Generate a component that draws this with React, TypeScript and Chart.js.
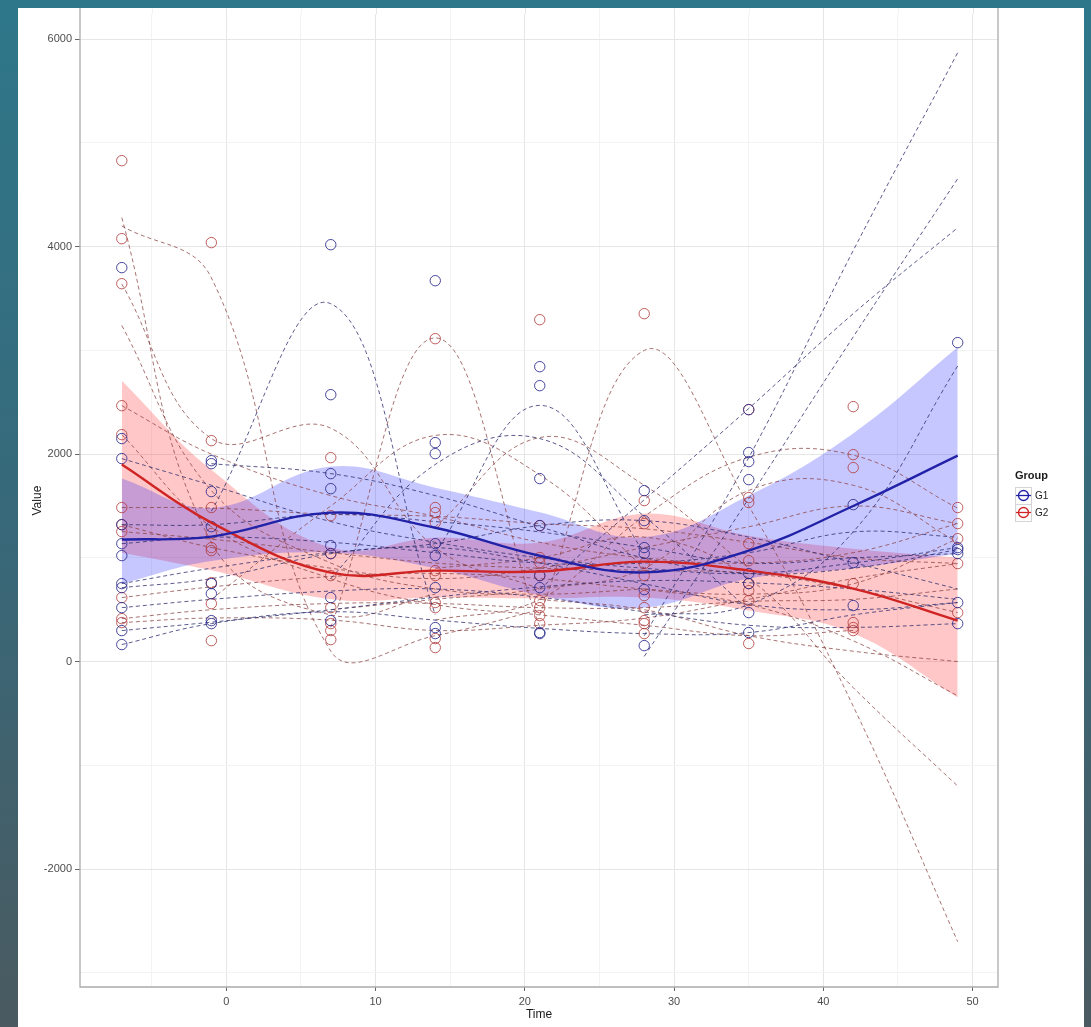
import React, { useEffect, useRef } from "react";
import { Chart, registerables } from "chart.js";

Chart.register(...registerables);

// ---------- data ----------
const times = [-7, -1, 7, 14, 21, 28, 35, 42, 49];
const groupNames = ["G1", "G2"];
const xTickValues = [-5, 0, 5, 10, 15, 20, 25, 30, 35, 40, 45, 50];
const xMajorTicks = [0, 10, 20, 30, 40, 50];
const yTickValues = [-3000, -2000, -1000, 0, 1000, 2000, 3000, 4000, 5000, 6000];
const yMajorTicks = [-2000, 0, 2000, 4000, 6000];

// observed values (open circles), one list per time point
const g1Obs: number[][] = [
  [3798, 2150, 1957, 1320, 1137, 1022, 752, 713, 520, 299, 164],
  [1937, 1908, 1639, 1301, 752, 655, 395, 366],
  [4019, 2573, 1812, 1667, 1118, 1041, 617, 395],
  [3672, 2111, 2005, 1137, 1022, 713, 328, 270],
  [2843, 2660, 1764, 1311, 829, 713, 280, 270],
  [1648, 1359, 1099, 1041, 694, 154],
  [2429, 2015, 1928, 1754, 848, 752, 472, 280],
  [1513, 954, 540],
  [3075, 1099, 1080, 1041, 569, 366],
];
const g2Obs: number[][] = [
  [4829, 4077, 3643, 2467, 2188, 1485, 1320, 1253, 617, 414, 376],
  [4039, 2130, 1485, 1234, 1099, 1070, 761, 559, 202],
  [1966, 1407, 1041, 829, 520, 366, 299, 212],
  [3113, 1485, 1436, 1340, 877, 829, 569, 520, 222, 135],
  [3296, 1311, 1003, 954, 829, 588, 520, 443, 366],
  [3354, 1552, 1330, 945, 829, 636, 520, 395, 366, 270],
  [2429, 1581, 1533, 1137, 973, 752, 684, 588, 174],
  [2458, 1995, 1870, 752, 376, 328, 299],
  [1485, 1330, 1185, 945, 472],
];

// group smooths and confidence bands
const g1Mean = [1176, 1205, 1436, 1290, 1020, 860, 1070, 1500, 1985];
const g1Upper = [1764, 1480, 1880, 1677, 1440, 1200, 1600, 2200, 3030];
const g1Lower = [752, 970, 1050, 900, 640, 520, 800, 900, 1040];
const g2Mean = [1899, 1340, 858, 877, 868, 964, 877, 704, 395];
const g2Upper = [2708, 1850, 1100, 1195, 1147, 1426, 1214, 1089, 1003];
const g2Lower = [1050, 880, 600, 617, 607, 617, 492, 270, -347];

// per-subject smoothed trajectories (null = not measured)
const N = null;
const g1Subjects: (number | null)[][] = [
  [N, N, N, N, N, 250, 1966, 3962, 5870],
  [N, N, N, N, N, 50, 1571, 3130, 4655],
  [N, N, N, N, 700, 1560, 2440, 3354, 4183],
  [N, N, N, N, N, 450, 550, 1250, 2850],
  [N, 1450, 3450, 450, N, N, N, N, N],
  [N, N, N, 1050, 2470, 1050, N, N, N],
  [1957, 1700, 1350, 1150, 1000, 900, 850, 950, 1100],
  [1320, 1320, 1420, 1350, 1250, 1100, 950, 1000, 1041],
  [1137, 1200, 1150, 1050, 950, 950, 1050, 1250, 1200],
  [752, 900, 1050, 1100, 950, 750, 550, 500, 569],
  [520, 600, 680, 700, 620, 480, 350, 330, 366],
  [299, 380, 500, 620, 720, 780, 760, 700, 600],
  [164, 366, 480, 400, 320, 270, 280, 450, 570],
  [N, 1908, 1812, 1600, 1300, 1000, 850, 900, 1080],
  [713, 800, 1041, 1137, 1311, 1359, 1200, 954, 700],
  [N, N, 800, 1900, 2150, 1400, 500, N, N],
];
const g2Subjects: (number | null)[][] = [
  [4200, 3700, 100, 250, 500, N, N, N, N],
  [4280, 1150, 450, 650, N, N, N, N, N],
  [3640, 2150, 2250, 1100, 700, N, N, N, N],
  [3240, 1650, 950, 700, 650, 700, N, N, N],
  [N, N, 330, 3120, 330, N, N, N, N],
  [N, N, N, N, 450, 3000, 1500, -430, -2700],
  [N, N, N, 900, 1000, 1200, 800, -250, -1200],
  [N, N, N, N, 600, 500, 250, 100, 0],
  [N, N, N, N, N, 700, 550, 200, -330],
  [N, N, N, 400, 600, 1400, 1970, 1990, 1480],
  [N, N, 500, 600, 700, 900, 1650, 1700, 1150],
  [2467, 2000, 1600, 1400, 1150, 1000, 950, 1050, 1330],
  [1485, 1480, 1420, 1400, 1330, 1280, 1150, 1000, 945],
  [1253, 1180, 1050, 950, 900, 880, 850, 700, 472],
  [617, 720, 820, 850, 800, 700, 650, 750, 1185],
  [414, 500, 560, 560, 520, 520, 580, 600, 700],
  [376, 420, 400, 300, 350, 420, 600, 800, 945],
  [2188, 1300, 800, 550, 450, 350, 250, 300, N],
  [N, 600, 1500, 2180, 1800, 900, N, N, N],
  [N, N, N, 1300, 2160, 1700, 900, N, N],
  [1320, 1100, 900, 800, 900, 1100, 1300, 1500, 1330],
];

// ---------- styles ----------
const X_MIN = -9.8;
const X_MAX = 51.7;
const Y_MIN = -3137;
const Y_MAX = 6241;
const G1_POINT = "rgba(40,40,140,0.85)";
const G2_POINT = "rgba(175,55,55,0.8)";
const G1_DASH = "rgba(45,45,110,0.78)";
const G2_DASH = "rgba(135,60,60,0.72)";
const G1_LINE = "#2222a8";
const G2_LINE = "#d02424";
const FONT = "'Liberation Sans', Arial, sans-serif";

type P = { x: number; y: number };
const toPts = (vals: (number | null)[]): P[] =>
  vals
    .map((v, i) => (v === null ? null : { x: times[i], y: v }))
    .filter((p): p is P => p !== null);
const obsPts = (obs: number[][]): P[] =>
  obs.flatMap((list, i) => list.map((v) => ({ x: times[i], y: v })));

const framePlugin = {
  id: "frameAndKey",
  beforeDatasetsDraw(chart: any) {
    // extend vertical grid lines up to the top edge of the white panel
    const { ctx, chartArea: a, scales } = chart;
    ctx.save();
    ctx.lineWidth = 1;
    xTickValues.forEach((v) => {
      const px = Math.round(scales.x.getPixelForValue(v)) + 0.5;
      ctx.strokeStyle = xMajorTicks.includes(v) ? "#e6e6e6" : "#f3f3f3";
      ctx.beginPath();
      ctx.moveTo(px, 0);
      ctx.lineTo(px, a.top);
      ctx.stroke();
    });
    ctx.restore();
  },
  afterDraw(chart: any) {
    const { ctx, chartArea: a } = chart;
    ctx.save();
    ctx.strokeStyle = "#ababab";
    ctx.lineWidth = 1.3;
    ctx.beginPath();
    ctx.moveTo(a.left, 0);
    ctx.lineTo(a.left, a.bottom);
    ctx.lineTo(a.right, a.bottom);
    ctx.lineTo(a.right, 0);
    ctx.stroke();

    // legend
    const lx = a.right + 17;
    ctx.fillStyle = "#1a1a1a";
    ctx.font = `bold 11px ${FONT}`;
    ctx.textBaseline = "middle";
    ctx.textAlign = "left";
    ctx.fillText("Group", lx, 468);
    const cols = [G1_LINE, G2_LINE];
    groupNames.forEach((name, i) => {
      const top = 479 + i * 17;
      ctx.fillStyle = "#ffffff";
      ctx.fillRect(lx, top, 16, 17);
      ctx.strokeStyle = "#d4d4d4";
      ctx.lineWidth = 1;
      ctx.strokeRect(lx + 0.5, top + 0.5, 16, 17);
      ctx.strokeStyle = cols[i];
      ctx.lineWidth = 1.3;
      ctx.beginPath();
      ctx.moveTo(lx + 1, top + 8.5);
      ctx.lineTo(lx + 16, top + 8.5);
      ctx.stroke();
      ctx.beginPath();
      ctx.arc(lx + 8.5, top + 8.5, 5, 0, Math.PI * 2);
      ctx.stroke();
      ctx.fillStyle = "#222";
      ctx.font = `10px ${FONT}`;
      ctx.fillText(name, lx + 20, top + 9);
    });
    ctx.restore();
  },
};

export default function App() {
  const ref = useRef<HTMLCanvasElement | null>(null);

  useEffect(() => {
    if (!ref.current) return;
    const ribbon = (vals: number[], color: string, fill: any) => ({
      data: toPts(vals),
      borderWidth: 0,
      pointRadius: 0,
      backgroundColor: color,
      fill,
      tension: 0.4,
      order: 10,
    });
    const datasets: any[] = [
      ribbon(g1Upper, "rgba(0,0,255,0.22)", "+1"),
      ribbon(g1Lower, "rgba(0,0,0,0)", false),
      ribbon(g2Upper, "rgba(255,0,0,0.22)", "+1"),
      ribbon(g2Lower, "rgba(0,0,0,0)", false),
    ];
    const subj = (vals: (number | null)[], color: string) => ({
      data: toPts(vals),
      borderColor: color,
      borderWidth: 1,
      borderDash: [4, 3],
      pointRadius: 0,
      fill: false,
      tension: 0.4,
      order: 5,
    });
    g1Subjects.forEach((s) => datasets.push(subj(s, G1_DASH)));
    g2Subjects.forEach((s) => datasets.push(subj(s, G2_DASH)));
    const pts = (obs: number[][], color: string) => ({
      data: obsPts(obs),
      showLine: false,
      pointRadius: 5.2,
      pointBorderWidth: 1,
      pointBorderColor: color,
      pointBackgroundColor: "rgba(0,0,0,0)",
      borderColor: color,
      order: 3,
    });
    datasets.push(pts(g1Obs, G1_POINT));
    datasets.push(pts(g2Obs, G2_POINT));
    const mean = (vals: number[], color: string) => ({
      data: toPts(vals),
      borderColor: color,
      borderWidth: 2.4,
      pointRadius: 0,
      fill: false,
      tension: 0.4,
      order: 1,
    });
    datasets.push(mean(g1Mean, G1_LINE));
    datasets.push(mean(g2Mean, G2_LINE));

    const tickFont = { family: FONT, size: 11 };
    const chart = new Chart(ref.current, {
      type: "line",
      data: { datasets },
      plugins: [framePlugin],
      options: {
        animation: false,
        responsive: false,
        events: [],
        layout: { padding: { left: 0, right: 86, top: 0, bottom: 0 } },
        plugins: { legend: { display: false }, tooltip: { enabled: false } },
        scales: {
          x: {
            type: "linear",
            min: X_MIN,
            max: X_MAX,
            afterBuildTicks: (s: any) => {
              s.ticks = xTickValues.map((v) => ({ value: v }));
            },
            afterFit: (s: any) => {
              s.height = 40;
              s.paddingLeft = 0;
              s.paddingRight = 0;
            },
            border: { display: false },
            grid: {
              color: (c: any) =>
                xMajorTicks.includes(c.tick?.value) ? "#e6e6e6" : "#f3f3f3",
              tickColor: (c: any) =>
                xMajorTicks.includes(c.tick?.value) ? "#666" : "rgba(0,0,0,0)",
              tickLength: 4,
              lineWidth: 1,
            },
            ticks: {
              autoSkip: false,
              maxRotation: 0,
              padding: 4,
              color: "#4d4d4d",
              font: tickFont,
              callback: (v: any) => (xMajorTicks.includes(v) ? String(v) : ""),
            },
            title: {
              display: true,
              text: "Time",
              color: "#1a1a1a",
              font: { family: FONT, size: 12 },
              padding: { top: 0, bottom: 5 },
            },
          },
          y: {
            type: "linear",
            min: Y_MIN,
            max: Y_MAX,
            afterBuildTicks: (s: any) => {
              s.ticks = yTickValues.map((v) => ({ value: v }));
            },
            afterFit: (s: any) => {
              s.width = 62;
              s.paddingTop = 0;
              s.paddingBottom = 0;
            },
            border: { display: false },
            grid: {
              color: (c: any) =>
                yMajorTicks.includes(c.tick?.value) ? "#e6e6e6" : "#f3f3f3",
              tickColor: (c: any) =>
                yMajorTicks.includes(c.tick?.value) ? "#666" : "rgba(0,0,0,0)",
              tickLength: 5,
              lineWidth: 1,
            },
            ticks: {
              autoSkip: false,
              padding: 3,
              color: "#4d4d4d",
              font: tickFont,
              callback: (v: any) => (yMajorTicks.includes(v) ? String(v) : ""),
            },
            title: {
              display: true,
              text: "Value",
              color: "#1a1a1a",
              font: { family: FONT, size: 12 },
              padding: { top: 12, bottom: 0 },
            },
          },
        },
      } as any,
    });
    return () => chart.destroy();
  }, []);

  return (
    <div
      style={{
        position: "fixed",
        inset: 0,
        background: "linear-gradient(to bottom, #2e778a 0%, #37697a 50%, #4a5a60 100%)",
        overflow: "hidden",
      }}
    >
      <div
        style={{
          position: "absolute",
          left: 18,
          top: 8,
          width: 1066,
          height: 1019,
          background: "#ffffff",
        }}
      >
        <canvas ref={ref} width={1066} height={1019} style={{ display: "block" }} />
      </div>
    </div>
  );
}
